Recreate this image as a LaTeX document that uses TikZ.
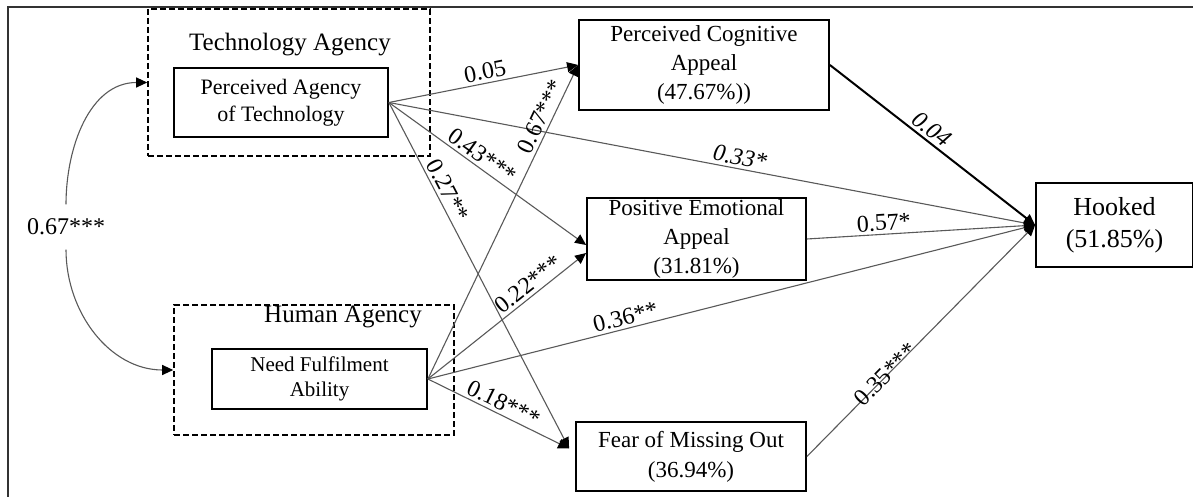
\documentclass[tikz,border=0pt]{standalone}
\usepackage{fontspec}
\setmainfont{Liberation Serif}
\usetikzlibrary{arrows.meta,positioning}

\begin{document}
\begin{tikzpicture}[
        x=0.5pt,
        y=-0.5pt,
        frame/.style={line width=1pt, black!80},
        group/.style={draw, dash pattern=on 3pt off 1.5pt, line width=0.8pt, inner sep=0pt},
        grouplabel/.style={font=\fontsize{12.5}{14}\selectfont, inner sep=0pt},
        construct/.style={draw, line width=0.9pt, align=center, inner sep=0pt},
        effect/.style={-{Triangle[length=5.5pt,width=5pt,color=black]}, draw=black!65, line width=0.55pt},
        strong/.style={-{Triangle[length=5.5pt,width=5pt]}, draw=black, line width=1pt},
        coef/.style={font=\fontsize{12}{14}\selectfont, sloped, above, inner sep=1.5pt}
    ]
        \useasboundingbox (0,0) rectangle (1193,497);

        % frame
        \draw[frame] (8,497) -- (8,7) -- (1193,7);

        % predictor groups
        \node[group, minimum width=141pt, minimum height=73.5pt] (techgrp) at (289,82.5) {};
        \node[grouplabel] (techlbl) at (290,45) {Technology Agency};
        \node[construct, minimum width=107pt, minimum height=34.5pt,
            font=\fontsize{11}{13.5}\selectfont] (pat) at (281,102.5) {Perceived Agency\\of Technology};

        \node[group, minimum width=140pt, minimum height=65pt] (humgrp) at (314,370) {};
        \node[grouplabel] (humlbl) at (343,317) {Human Agency};
        \node[construct, minimum width=107.5pt, minimum height=30pt,
            font=\fontsize{10.5}{12.5}\selectfont] (nfa) at (319.5,379) {Need Fulfilment\\Ability};

        % mediators and outcome
        \node[construct, minimum width=125pt, minimum height=45pt,
            font=\fontsize{11.5}{14.5}\selectfont] (pca) at (704,65) {Perceived Cognitive\\Appeal\\(47.67\%))};
        \node[construct, minimum width=109.5pt, minimum height=41pt,
            font=\fontsize{11.5}{14.5}\selectfont] (pea) at (696.5,239) {Positive Emotional\\Appeal\\(31.81\%)};
        \node[construct, minimum width=115pt, minimum height=34.5pt,
            font=\fontsize{11.5}{15}\selectfont] (fomo) at (691,456.5) {Fear of Missing Out\\(36.94\%)};
        \node[construct, minimum width=78.5pt, minimum height=42pt,
            font=\fontsize{13}{16}\selectfont] (hooked) at (1114.5,225) {Hooked\\(51.85\%)};

        % covariance
        \node[font=\fontsize{12}{14}\selectfont, inner xsep=0pt, inner ysep=7pt] (cov) at (66,227) {0.67***};
        \draw[effect] (cov.north) to[out=90, in=180] (techgrp.west);
        \draw[effect] (cov.south) to[out=-90, in=180] (humgrp.west);

        % paths from technology agency
        \draw[effect] (pat.east) -- node[coef, pos=0.52] {0.05} (pca.west);
        \draw[effect] (pat.east) -- node[coef, pos=0.54] {\itshape 0.33*} (hooked.west);
        \draw[effect] (pat.east) -- node[coef, pos=0.44] {0.43***} ([yshift=-3pt]pea.west);
        \draw[effect] (pat.east) -- node[coef, pos=0.27] {0.27**} ([xshift=-3pt,yshift=4pt]fomo.west);

        % paths from human agency
        \draw[effect] (nfa.east) -- node[coef, pos=0.82] {0.67***} (pca.west);
        \draw[effect] (nfa.east) -- node[coef, pos=0.68] {0.22***} ([yshift=-7pt]pea.west);
        \draw[effect] (nfa.east) -- node[coef, pos=0.33] {0.36**} (hooked.west);
        \draw[effect] (nfa.east) -- node[coef, pos=0.5] {0.18***} ([xshift=-3pt,yshift=4pt]fomo.west);

        % paths to outcome
        \draw[strong] (pca.east) -- node[coef, pos=0.46] {\itshape 0.04} (hooked.west);
        \draw[effect] (pea.east) -- node[coef, pos=0.34] {0.57*} (hooked.west);
        \draw[effect] (fomo.east) -- node[coef, pos=0.35, above=-5pt] {0.35***} (hooked.west);
    \end{tikzpicture}
\end{document}
